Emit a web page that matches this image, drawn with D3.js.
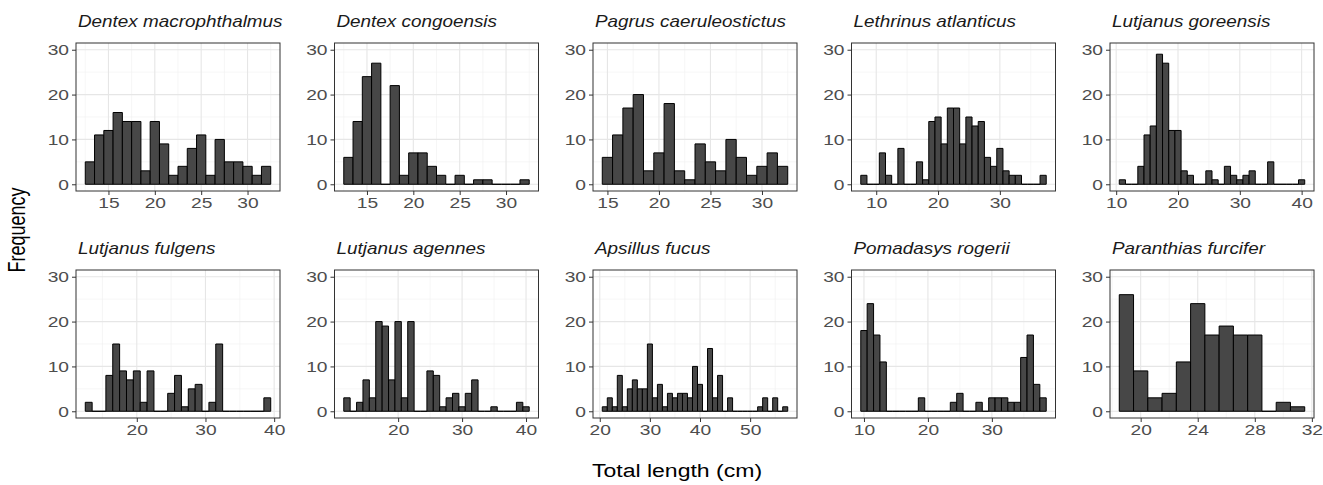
<!DOCTYPE html>
<html><head><meta charset="utf-8">
<script src="https://cdn.jsdelivr.net/npm/d3@7"></script>
<style>body{margin:0;background:#fff} text{font-family:"Liberation Sans",Arial,sans-serif}</style>
</head><body><svg id="c" width="1323" height="485"></svg>
<script>
// ---- data ----
const species = ["Dentex macrophthalmus","Dentex congoensis","Pagrus caeruleostictus","Lethrinus atlanticus","Lutjanus goreensis",
                 "Lutjanus fulgens","Lutjanus agennes","Apsillus fucus","Pomadasys rogerii","Paranthias furcifer"];
const firstBin = [13, 13, 15, 8, 11, 13, 12, 21, 10, 19]; // centre (cm) of first 1-cm bin
const dentexMacrophthalmus  = [5,11,12,16,14,14,3,14,9,2,4,8,11,2,10,5,5,4,2,4];
const dentexCongoensis      = [6,14,24,27,0,22,2,7,7,4,2,0,2,0,1,1,0,0,0,1];
const pagrusCaeruleostictus = [6,11,17,20,3,7,18,3,1,9,5,3,10,6,2,4,7,4];
const lethrinusAtlanticus   = [2,0,0,7,2,0,8,0,0,5,1,14,15,9,17,17,9,15,13,14,6,4,8,3,2,2,0,0,0,2];
const lutjanusGoreensis     = [1,0,0,4,11,13,29,27,12,12,3,2,0,0,3,1,0,4,2,1,2,3,0,0,5,0,0,0,0,1];
const lutjanusFulgens       = [2,0,0,8,15,9,7,9,2,9,0,0,4,8,1,5,6,0,2,15,0,0,0,0,0,0,3];
const lutjanusAgennes       = [3,0,2,7,3,20,19,7,20,3,20,0,0,9,8,1,3,4,1,4,7,0,0,1,0,0,0,2,1];
const apsillusFucus         = [1,3,1,8,1,5,7,5,5,15,3,6,1,4,3,4,4,3,10,6,0,14,3,8,0,3,0,0,0,0,0,1,3,0,3,0,1];
const pomadasysRogerii      = [18,24,17,11,0,0,0,0,0,3,0,0,0,0,2,4,0,0,2,0,3,3,3,2,2,12,17,6,3];
const paranthiasFurcifer    = [26,9,3,4,11,24,17,19,17,17,0,2,1];
const countsBySpecies = [dentexMacrophthalmus, dentexCongoensis, pagrusCaeruleostictus, lethrinusAtlanticus, lutjanusGoreensis,
                         lutjanusFulgens, lutjanusAgennes, apsillusFucus, pomadasysRogerii, paranthiasFurcifer];
const xTicks = [[15,20,25,30],[15,20,25,30],[15,20,25,30],[10,20,30],[10,20,30,40],
                [20,30,40],[20,30,40],[20,30,40,50],[10,20,30],[20,24,28,32]];
const yTicks = [0,10,20,30];
const xTitle = "Total length (cm)";
const yTitle = "Frequency";

// ---- layout ----
const SX = 1.28;            // horizontal glyph stretch of the reference
const SXs = 1.18;           // stretch for strip labels
const left0 = 76, panelW = 204, stepX = 258.5, rowTop = [43, 270], panelH = 148;
const svg = d3.select("#c");
svg.append("rect").attr("width",1323).attr("height",485).attr("fill","#fff");

species.forEach((name, i) => {
  const col = i % 5, row = Math.floor(i / 5);
  const x0 = left0 + col * stepX, y0 = rowTop[row];
  const data = countsBySpecies[i];
  const lo = firstBin[i] - 0.5, hi = firstBin[i] + data.length - 0.5;
  const ex = (hi - lo) * 0.05;
  const x = d3.scaleLinear().domain([lo - ex, hi + ex]).range([x0, x0 + panelW]);
  const y = d3.scaleLinear().domain([-1.5, 31.5]).range([y0 + panelH, y0]);
  const g = svg.append("g");

  // grid
  const xt = xTicks[i], st = xt[1] - xt[0];
  const xMinor = [xt[0] - st/2, ...xt.map(t => t + st/2)].filter(v => v > x.domain()[0] && v < x.domain()[1]);
  const yMinor = [5,15,25];
  g.selectAll(".gxm").data(xMinor).join("line").attr("x1",d=>x(d)).attr("x2",d=>x(d)).attr("y1",y0).attr("y2",y0+panelH)
    .attr("stroke","#f0f0f0").attr("stroke-width",0.6);
  g.selectAll(".gym").data(yMinor).join("line").attr("y1",d=>y(d)).attr("y2",d=>y(d)).attr("x1",x0).attr("x2",x0+panelW)
    .attr("stroke","#f0f0f0").attr("stroke-width",0.6);
  g.append("g").selectAll("line").data(xt).join("line").attr("x1",d=>x(d)).attr("x2",d=>x(d)).attr("y1",y0).attr("y2",y0+panelH)
    .attr("stroke","#e6e6e6").attr("stroke-width",1.1);
  g.append("g").selectAll("line").data(yTicks).join("line").attr("y1",d=>y(d)).attr("y2",d=>y(d)).attr("x1",x0).attr("x2",x0+panelW)
    .attr("stroke","#e6e6e6").attr("stroke-width",1.1);

  // bars
  g.append("g").selectAll("path").data(data).join("path")
    .attr("d",(d,k) => {
      const c = firstBin[i] + k;
      const a = x(c - 0.5), b = x(c + 0.5), t = y(d), z = y(0);
      return `M${a},${z}V${t}H${b}V${z}Z`;
    })
    .attr("fill","#474747").attr("stroke","#000").attr("stroke-width",1);

  // border
  g.append("rect").attr("x",x0).attr("y",y0).attr("width",panelW).attr("height",panelH)
    .attr("fill","none").attr("stroke","#333").attr("stroke-width",1);

  // axes
  const ax = g.append("g").attr("transform",`translate(0,${y0+panelH})`)
    .call(d3.axisBottom(x).tickValues(xt).tickSize(4).tickPadding(2));
  ax.select(".domain").remove();
  ax.selectAll("line").attr("stroke","#333");
  ax.selectAll("text").attr("font-size",15).attr("fill","#4d4d4d").attr("font-family",null)
    .attr("transform",`scale(${SX},1)`);
  const ay = g.append("g").attr("transform",`translate(${x0},0)`)
    .call(d3.axisLeft(y).tickValues(yTicks).tickSize(4).tickPadding(3));
  ay.select(".domain").remove();
  ay.selectAll("line").attr("stroke","#333");
  ay.selectAll("text").attr("font-size",15).attr("fill","#4d4d4d").attr("font-family",null)
    .attr("x",-7/SX).attr("transform",`scale(${SX},1)`);

  // strip label
  g.append("text").text(name).attr("font-size",16).attr("font-style","italic").attr("fill","#1a1a1a")
    .attr("transform",`translate(${x0+2},${y0-16}) scale(${SXs},1)`);
});

svg.append("text").text(xTitle).attr("font-size",18).attr("text-anchor","middle").attr("fill","#000")
  .attr("transform",`translate(677,477) scale(${SX},1)`);
svg.append("text").text(yTitle).attr("font-size",18).attr("text-anchor","middle").attr("fill","#000")
  .attr("transform",`translate(25,230) rotate(-90) scale(1,${SX})`);
</script></body></html>
